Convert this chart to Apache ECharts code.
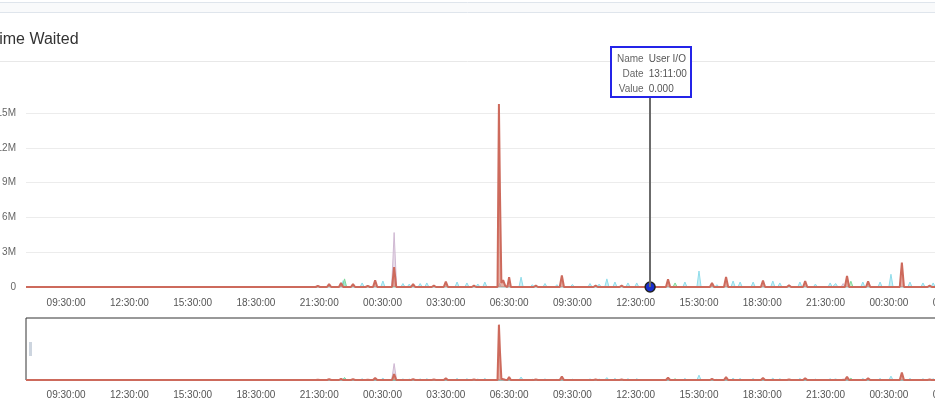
<!DOCTYPE html>
<html><head><meta charset="utf-8">
<script src="https://cdn.jsdelivr.net/npm/echarts@6/dist/echarts.min.js"></script>
<style>html,body{margin:0;padding:0;background:#fff;overflow:hidden}#c{width:935px;height:409px}</style>
</head><body><div id="c"></div>
<script>
// ---- data (times as "D<day> HH:MM", values in millions) ----
const titleText = "Time Waited";
const axisStart = "D1 07:36";
const axisEnd = "D3 04:35";
const xTickTimes = ["D1 09:30","D1 12:30","D1 15:30","D1 18:30","D1 21:30","D2 00:30","D2 03:30","D2 06:30","D2 09:30","D2 12:30","D2 15:30","D2 18:30","D2 21:30","D3 00:30","D3 03:30"];
const yTickValues = [0,3,6,9,12,15];
const valueUnit = 1e6;
const tooltipSeries = "User I/O";
const tooltipTime = "D2 13:11";

const systemIOData = [
["D1 07:36",0],
["D1 21:40",0],["D1 21:45",0.12],["D1 21:50",0],
["D1 22:33",0],["D1 22:38",0.55],["D1 22:43",0.6],["D1 22:48",0],
["D1 23:26",0],["D1 23:32",0.35],["D1 23:38",0],
["D2 00:25",0],["D2 00:31",0.52],["D2 00:37",0],
["D2 01:22",0],["D2 01:28",0.3],["D2 01:34",0],
["D2 01:40",0],["D2 01:46",0.25],["D2 01:52",0],
["D2 02:11",0],["D2 02:17",0.3],["D2 02:23",0],
["D2 02:30",0],["D2 02:36",0.35],["D2 02:42",0],
["D2 03:05",0],["D2 03:10",0.15],["D2 03:15",0],
["D2 03:56",0],["D2 04:02",0.43],["D2 04:08",0],
["D2 04:24",0],["D2 04:30",0.35],["D2 04:36",0],
["D2 04:55",0],["D2 05:01",0.26],["D2 05:07",0],
["D2 05:15",0],["D2 05:21",0.43],["D2 05:27",0],
["D2 05:58",0],["D2 06:03",0.3],["D2 06:08",0],
["D2 06:58",0],["D2 07:04",0.85],["D2 07:10",0],
["D2 07:30",0],["D2 07:36",0.2],["D2 07:42",0],
["D2 08:06",0],["D2 08:12",0.3],["D2 08:18",0],
["D2 08:40",0],["D2 08:46",0.2],["D2 08:52",0],
["D2 09:24",0],["D2 09:30",0.22],["D2 09:36",0],
["D2 10:14",0],["D2 10:20",0.3],["D2 10:26",0],
["D2 10:40",0],["D2 10:46",0.25],["D2 10:52",0],
["D2 11:02",0],["D2 11:08",0.7],["D2 11:14",0],
["D2 11:25",0],["D2 11:31",0.43],["D2 11:37",0],
["D2 12:02",0],["D2 12:08",0.35],["D2 12:14",0],
["D2 12:27",0],["D2 12:33",0.35],["D2 12:39",0],
["D2 14:44",0],["D2 14:50",0.43],["D2 14:56",0],
["D2 15:24",0],["D2 15:30",1.38],["D2 15:36",0],
["D2 16:15",0],["D2 16:21",0.2],["D2 16:27",0],
["D2 17:01",0],["D2 17:07",0.52],["D2 17:13",0],
["D2 17:21",0],["D2 17:27",0.43],["D2 17:33",0],
["D2 17:58",0],["D2 18:04",0.43],["D2 18:10",0],
["D2 18:54",0],["D2 19:00",0.52],["D2 19:06",0],
["D2 19:14",0],["D2 19:20",0.35],["D2 19:26",0],
["D2 20:11",0],["D2 20:17",0.43],["D2 20:23",0],
["D2 20:55",0],["D2 21:01",0.25],["D2 21:07",0],
["D2 21:37",0],["D2 21:43",0.35],["D2 21:49",0],
["D2 21:53",0],["D2 21:59",0.3],["D2 22:05",0],
["D2 23:10",0],["D2 23:16",0.43],["D2 23:22",0],
["D2 23:59",0],["D3 00:05",0.43],["D3 00:11",0],
["D3 00:30",0],["D3 00:36",1.1],["D3 00:42",0],
["D3 01:24",0],["D3 01:30",0.43],["D3 01:36",0],
["D3 02:01",0],["D3 02:07",0.35],["D3 02:13",0],
["D3 02:30",0],["D3 02:36",0.35],["D3 02:42",0],
["D3 03:04",0],["D3 03:10",0.3],["D3 03:16",0],
["D3 04:35",0]
];

const schedulerData = [
["D1 07:36",0],
["D1 22:36",0],["D1 22:42",0.7],["D1 22:48",0],
["D2 14:16",0],["D2 14:22",0.35],["D2 14:28",0],
["D2 22:36",0],["D2 22:42",0.5],["D2 22:48",0],
["D3 04:35",0]
];

const otherData = [
["D1 07:36",0],
["D2 00:56",0],["D2 01:03",4.7],["D2 01:10",0],
["D2 22:14",0],["D2 22:20",0.3],["D2 22:26",0],
["D3 04:35",0]
];

const userIOData = [
["D1 07:36",0],
["D2 05:58",0],["D2 06:02",0.06],["D2 06:06",0],
["D2 13:11",0],
["D2 15:26",0],["D2 15:30",0.05],["D2 15:34",0],
["D3 04:35",0]
];

const applicationData = [
["D1 07:36",0],
["D1 21:20",0],["D1 21:26",0.1],["D1 21:32",0],
["D1 21:52",0],["D1 21:58",0.25],["D1 22:04",0],
["D1 22:26",0],["D1 22:32",0.35],["D1 22:38",0],
["D1 23:00",0],["D1 23:06",0.25],["D1 23:12",0],
["D1 23:42",0],["D1 23:48",0.1],["D1 23:54",0],
["D2 00:03",0],["D2 00:09",0.58],["D2 00:15",0],
["D2 00:57",0],["D2 01:03",1.72],["D2 01:09",0],
["D2 01:51",0],["D2 01:57",0.25],["D2 02:03",0],
["D2 02:50",0],["D2 02:56",0.12],["D2 03:02",0],
["D2 03:24",0],["D2 03:30",0.46],["D2 03:36",0],
["D2 04:44",0],["D2 04:50",0.12],["D2 04:56",0],
["D2 05:57",0],["D2 06:01",15.8],["D2 06:04",8.1],["D2 06:08",0.35],["D2 06:13",0.6],["D2 06:19",0.1],
["D2 06:25",0],["D2 06:30",0.85],["D2 06:35",0],
["D2 07:40",0],["D2 07:46",0.12],["D2 07:52",0],
["D2 08:54",0],["D2 09:00",1.0],["D2 09:06",0],
["D2 10:30",0],["D2 10:36",0.12],["D2 10:42",0],
["D2 11:44",0],["D2 11:50",0.12],["D2 11:56",0],
["D2 13:56",0],["D2 14:02",0.66],["D2 14:08",0],
["D2 16:01",0],["D2 16:07",0.35],["D2 16:13",0],
["D2 16:41",0],["D2 16:47",0.86],["D2 16:53",0],
["D2 18:26",0],["D2 18:32",0.56],["D2 18:38",0],
["D2 19:40",0],["D2 19:46",0.15],["D2 19:52",0],
["D2 20:26",0],["D2 20:32",0.52],["D2 20:38",0],
["D2 22:25",0],["D2 22:31",0.95],["D2 22:37",0],
["D2 23:25",0],["D2 23:31",0.49],["D2 23:37",0],
["D3 01:01",0],["D3 01:07",2.1],["D3 01:13",0],
["D3 02:20",0],["D3 02:26",0.12],["D3 02:32",0],
["D3 04:35",0]
];

// ---- helpers ----
function toMin(s){ const d = +s.slice(1, s.indexOf(' ')); const [h,m] = s.slice(s.indexOf(' ')+1).split(':').map(Number); return (d-1)*1440 + h*60 + m; }
function fmtTime(min){ const t = ((Math.round(min) % 1440) + 1440) % 1440; const h = Math.floor(t/60), m = t%60; return String(h).padStart(2,'0')+':'+String(m).padStart(2,'0')+':00'; }
function conv(arr){ return arr.map(p => [toMin(p[0]), p[1]*valueUnit]); }

const FONT = "'Liberation Sans', Arial, sans-serif";
const seriesDefs = [
  {name:"System I/O", data: systemIOData, line:'#8fdcea', area:'rgba(150,226,238,0.75)', w:1, z:2},
  {name:"Scheduler", data: schedulerData, line:'#7fd89a', area:'rgba(140,222,160,0.75)', w:1, z:2},
  {name:"Other", data: otherData, line:'#cfb8d2', area:'rgba(214,196,218,0.85)', w:1, z:2},
  {name:"Application", data: applicationData, line:'#cd6a5c', area:'rgba(214,122,106,0.85)', w:2, z:3},
  {name:"User I/O", data: userIOData, line:'#1f2fbf', area:'rgba(31,47,191,0.9)', w:0, z:4}
];

const series = [];
seriesDefs.forEach(d => {
  const base = {
    name: d.name, type:'line', data: conv(d.data), z: d.z,
    lineStyle:{color:d.line, width:d.w, opacity: d.w ? 1 : 0},
    itemStyle:{color:d.line},
    areaStyle:{color:d.area},
    emphasis:{disabled:true},
    animation:false, clip:true
  };
  if (d.name === tooltipSeries) {
    Object.assign(base, {symbol:'circle', symbolSize:9, showSymbol:false,
      itemStyle:{color:'#1a2fcf', borderColor:'#222', borderWidth:1.5}});
  } else {
    base.symbol = 'none';
  }
  series.push(Object.assign({}, base, {xAxisIndex:0, yAxisIndex:0}));
  series.push(Object.assign({}, base, {xAxisIndex:1, yAxisIndex:1, symbol:'none', showSymbol:false, z: d.z}));
});

const tickMin = xTickTimes.map(toMin);
function xAxisFor(gi, margin){
  return {
    gridIndex: gi, type:'value', min: toMin(axisStart), max: toMin(axisEnd),
    axisLine:{show:false}, axisTick:{show:false}, splitLine:{show:false},
    axisLabel:{customValues: tickMin, formatter: v => fmtTime(v), color:'#555', fontSize:10, fontFamily:FONT, margin: margin,
      hideOverlap:false}
  };
}

const chart = echarts.init(document.getElementById('c'));
chart.setOption({
  animation:false,
  backgroundColor:'#fff',
  title:{text:titleText, left:-10, top:32, padding:0,
    textStyle:{fontSize:16, fontWeight:'normal', color:'#333', fontFamily:FONT}},
  graphic:[
    {type:'rect', shape:{x:-1, y:2.5, width:940, height:10}, style:{fill:'#f9fafb', stroke:'#dfe5ec', lineWidth:1}, silent:true},
    {type:'line', shape:{x1:0, y1:61.5, x2:935, y2:61.5}, style:{stroke:'#e8e8e8', lineWidth:1}, silent:true},
    {type:'rect', shape:{x:29, y:342, width:3, height:14}, style:{fill:'#cdd5df'}, silent:true, z:100}
  ],
  grid:[
    {left:26, top:90, width:949, height:197, outerBoundsMode:'none', containLabel:false},
    {left:26, top:318, width:949, height:62, outerBoundsMode:'none', containLabel:false,
      show:true, borderColor:'#333', borderWidth:1, backgroundColor:'transparent'}
  ],
  xAxis:[ xAxisFor(0, 11), xAxisFor(1, 10) ],
  yAxis:[
    {gridIndex:0, type:'value', min:0, max:17e6, interval:3e6,
      axisLine:{show:false}, axisTick:{show:false},
      splitLine:{show:true, showMaxLine:false, lineStyle:{color:'#ececec', width:1}},
      axisLabel:{showMaxLabel:false, color:'#666', fontSize:10, fontFamily:FONT, margin:10,
        formatter: v => yTickValues.includes(Math.round(v/valueUnit*1000)/1000) ? (v === 0 ? '0' : (v/valueUnit)+'M') : ''}},
    {gridIndex:1, type:'value', min:0, max:17.7e6, show:false, splitLine:{show:false}}
  ],
  tooltip:{
    trigger:'axis', triggerOn:'none', alwaysShowContent:true, transitionDuration:0,
    position:[610, 46], backgroundColor:'#fff', borderColor:'#2424e8', borderWidth:2, padding:[3,3,0,5],
    extraCssText:'box-shadow:none;border-radius:0;',
    axisPointer:{type:'line', snap:true, lineStyle:{color:'#6b6b6b', width:2, type:'solid'}, animation:false},
    formatter: function(params){
      const p = params.find(q => q.seriesName === tooltipSeries && q.axisIndex === 0) || params.find(q => q.seriesName === tooltipSeries);
      if (!p) return '';
      const td1 = 'style="text-align:right;padding:0 5px 0 0;color:#666"';
      const td2 = 'style="text-align:left;padding:0;color:#555"';
      return '<table style="border-collapse:collapse;font-size:10px;font-family:'+"'Liberation Sans',Arial,sans-serif"+';line-height:15px">'
        + '<tr><td '+td1+'>Name</td><td '+td2+'>'+p.seriesName+'</td></tr>'
        + '<tr><td '+td1+'>Date</td><td '+td2+'>'+fmtTime(p.value[0])+'</td></tr>'
        + '<tr><td '+td1+'>Value</td><td '+td2+'>'+(p.value[1]).toFixed(3)+'</td></tr></table>';
    }
  },
  series: series
});

const px = chart.convertToPixel({xAxisIndex:0, yAxisIndex:0}, [toMin(tooltipTime), 0]);
chart.dispatchAction({type:'showTip', x: px[0], y: 200});
</script>
</body></html>
